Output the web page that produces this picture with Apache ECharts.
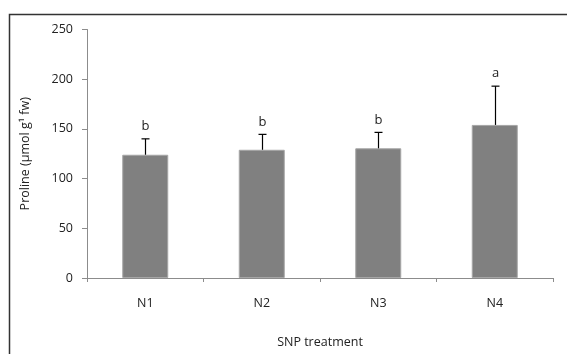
<!DOCTYPE html>
<html><head><meta charset="utf-8">
<script src="https://cdn.jsdelivr.net/npm/echarts@6/dist/echarts.min.js"></script>
<style>html,body{margin:0;padding:0;background:#fff}#c{width:567px;height:354px}</style>
</head><body><div id="c"></div>
<script>
const categories = ['N1','N2','N3','N4'];
const values = [124, 129, 130.5, 154];
const errors = [16, 15.5, 16, 39];
const letters = ['b','b','b','a'];
const yTicks = [0, 50, 100, 150, 200, 250];

const chart = echarts.init(document.getElementById('c'));
const font = '"Open Sans", "DejaVu Sans", sans-serif';
const fs = 12.5;
chart.setOption({
  animation: false,
  graphic: [{type:'rect', shape:{x:9.5,y:14.5,width:570,height:360}, style:{fill:'none', stroke:'#333', lineWidth:1.5}, z:-1}],
  grid: {left: 87, right: 14, top: 29.5, bottom: 72.3},
  xAxis: {
    type: 'category', data: categories, boundaryGap: true,
    axisLine: {lineStyle: {color: '#8c8c8c'}},
    axisTick: {show: true, length: 4, lineStyle: {color: '#8c8c8c'}},
    axisLabel: {margin: 19, fontSize: fs, color: '#222', fontFamily: font},
    name: 'SNP treatment', nameLocation: 'middle', nameGap: 58,
    nameTextStyle: {fontSize: fs, color: '#222', fontFamily: font}
  },
  yAxis: {
    type: 'value', min: 0, max: 250, interval: 50,
    axisLine: {show: true, lineStyle: {color: '#8c8c8c'}},
    axisTick: {show: true, length: 5, lineStyle: {color: '#8c8c8c'}},
    splitLine: {show: false},
    axisLabel: {margin: 14, fontSize: fs, color: '#222', fontFamily: font,
      formatter: v => yTicks.includes(v) ? String(v) : ''},
    name: 'Proline (µmol g¹ fw)', nameLocation: 'middle', nameGap: 55, nameRotate: 90,
    nameTextStyle: {fontSize: fs, color: '#222', fontFamily: font}
  },
  series: [
    {type: 'bar', data: values, barWidth: 46,
     itemStyle: {color: '#808080', borderColor: '#a6a6a6', borderWidth: 1}},
    {type: 'custom', data: values.map((v,i)=>[i, v, errors[i]]),
     renderItem: function(params, api){
       const i = api.value(0), v = api.value(1), e = api.value(2);
       const p0 = api.coord([i, v]);
       const p1 = api.coord([i, v + e]);
       const x = Math.round(p0[0]) + 0.5;
       return {type: 'group', children: [
         {type:'line', shape:{x1:x, y1:p0[1], x2:x, y2:p1[1]}, style:{stroke:'#000', lineWidth:1.2}},
         {type:'line', shape:{x1:x-4, y1:p1[1], x2:x+4, y2:p1[1]}, style:{stroke:'#000', lineWidth:1.2}},
         {type:'text', style:{text: letters[i], x: x, y: p1[1]-6, align:'center', verticalAlign:'bottom', fontSize: 13, fill:'#222', fontFamily: font}}
       ]};
     }, z: 5}
  ]
});
</script></body></html>
